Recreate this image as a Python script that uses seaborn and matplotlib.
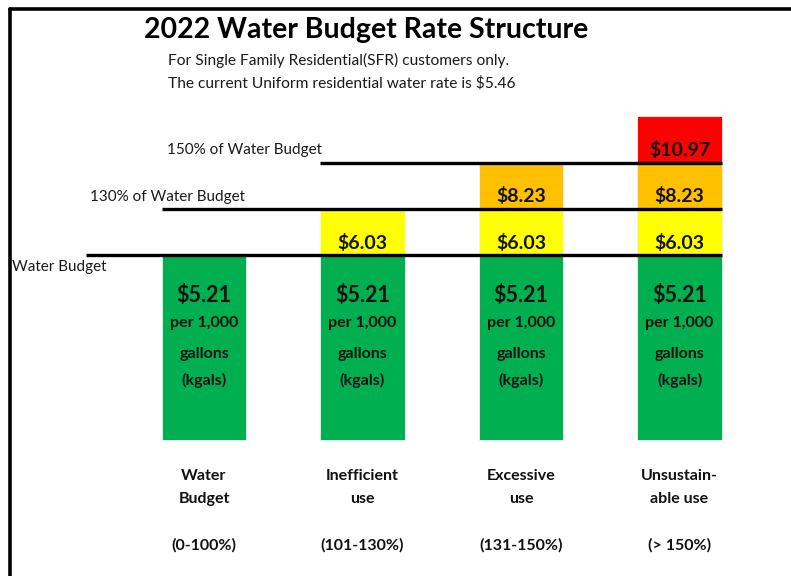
import numpy as np
import pandas as pd
import matplotlib.pyplot as plt
import seaborn as sns


# -- -- -- -- --    data -- -- -- -- --

categories = ["Water\nBudget", "Inefficient\nuse", "Excessive\nuse", "Unsustain-\nable use"]
usage_ranges = ["(0-100%)", "(101-130%)", "(131-150%)", "(> 150%)"]
base_rate = 5.21
tier_rates = [6.03, 8.23, 10.97]
tiers_used = [0, 1, 2, 3]
threshold_names = ["Water Budget", "130% of Water Budget", "150% of Water Budget"]
uniform_rate = 5.46

title = "2022 Water Budget Rate Structure"
subtitles = ["For Single Family Residential(SFR) customers only.",
             "The current Uniform residential water rate is $%.2f" % uniform_rate]
base_unit = ["per 1,000", "gallons", "(kgals)"]

base_color = "#00B050"
tier_colors = ["#FFFF00", "#FFC000", "#FF0000"]


# -- -- -- -- --    layout (figure pixels -> data units) -- -- -- -- --

W, H = 791, 576
X0, DX = 204, 158.5     # pixel centre of first column, column spacing
Y0, DY = 440, 46.25     # pixel of bar bottom, pixels per tier step
BASE_H = 4              # green block is 4 steps tall
BAR_W = 0.53


def px(x):
    return (x - X0) / DX


def py(y):
    return (Y0 - y) / DY


sns.set_theme(style="white")
plt.rcParams['font.family'] = ['Lato', 'DejaVu Sans']

fig = plt.figure(figsize=(W / 100, H / 100), dpi=100)
ax = fig.add_axes([0, 0, 1, 1])
n = len(categories)

# stacked bars, drawn from the top tier down so each colour covers the one above
for k in range(len(tier_rates) - 1, -1, -1):
    tops = [BASE_H + k + 1 if used > k else 0 for used in tiers_used]
    sns.barplot(x=categories, y=tops, color=tier_colors[k], saturation=1,
                width=BAR_W, edgecolor="#f4f4f4", linewidth=0.6, ax=ax)
sns.barplot(x=categories, y=[BASE_H] * n, color=base_color, saturation=1,
            width=BAR_W, edgecolor="#f4f4f4", linewidth=0.6, ax=ax)

# threshold lines + labels
line_starts = [px(86), -BAR_W / 2, 1 - BAR_W / 2]
label_pos = [(12, 267), (90, 197), (167, 150)]
for j, name in enumerate(threshold_names):
    ax.hlines(BASE_H + j, line_starts[j], n - 1 + BAR_W / 2, color="black", lw=2.4, zorder=4)
    ax.text(px(label_pos[j][0]), py(label_pos[j][1]), name, ha="left", va="center",
            fontsize=11, color="#1a1a1a")

# rate labels
for i in range(n):
    ax.text(i, py(295), "$%.2f" % base_rate, ha="center", va="center",
            fontsize=15.5, fontweight="bold", color="#111111", zorder=5)
    for yy, line in zip([323, 354, 380], base_unit):
        ax.text(i, py(yy), line, ha="center", va="center",
                fontsize=11.5, fontweight="bold", color="#111111", zorder=5)
    for k in range(tiers_used[i]):
        ax.text(i, BASE_H + k + 0.27, "$%.2f" % tier_rates[k], ha="center", va="center",
                fontsize=14, fontweight="bold", color="#111111", zorder=5)
    for j, line in enumerate(categories[i].split("\n")):
        ax.text(i, py(476 + 23 * j), line, ha="center", va="center",
                fontsize=11.5, fontweight="bold", color="#111111")
    ax.text(i, py(545), usage_ranges[i], ha="center", va="center",
            fontsize=11.5, fontweight="bold", color="#111111")

# title block
ax.text(px(366), py(30), title, ha="center", va="center", fontsize=20.5, fontweight="bold", color="black")
for j, s in enumerate(subtitles):
    ax.text(px(168), py(60 + 23 * j), s, ha="left", va="center", fontsize=11.2, color="#1a1a1a")

# frame on top and left
ax.plot([10 / W, 1], [1 - 9 / H, 1 - 9 / H], color="black", lw=2.6, transform=ax.transAxes, clip_on=False)
ax.plot([10 / W, 10 / W], [0, 1 - 9 / H], color="black", lw=2.6, transform=ax.transAxes, clip_on=False)

ax.set_xlim(px(0), px(W))
ax.set_ylim(py(H), py(0))
ax.axis("off")

fig.savefig("out.png", dpi=100)
